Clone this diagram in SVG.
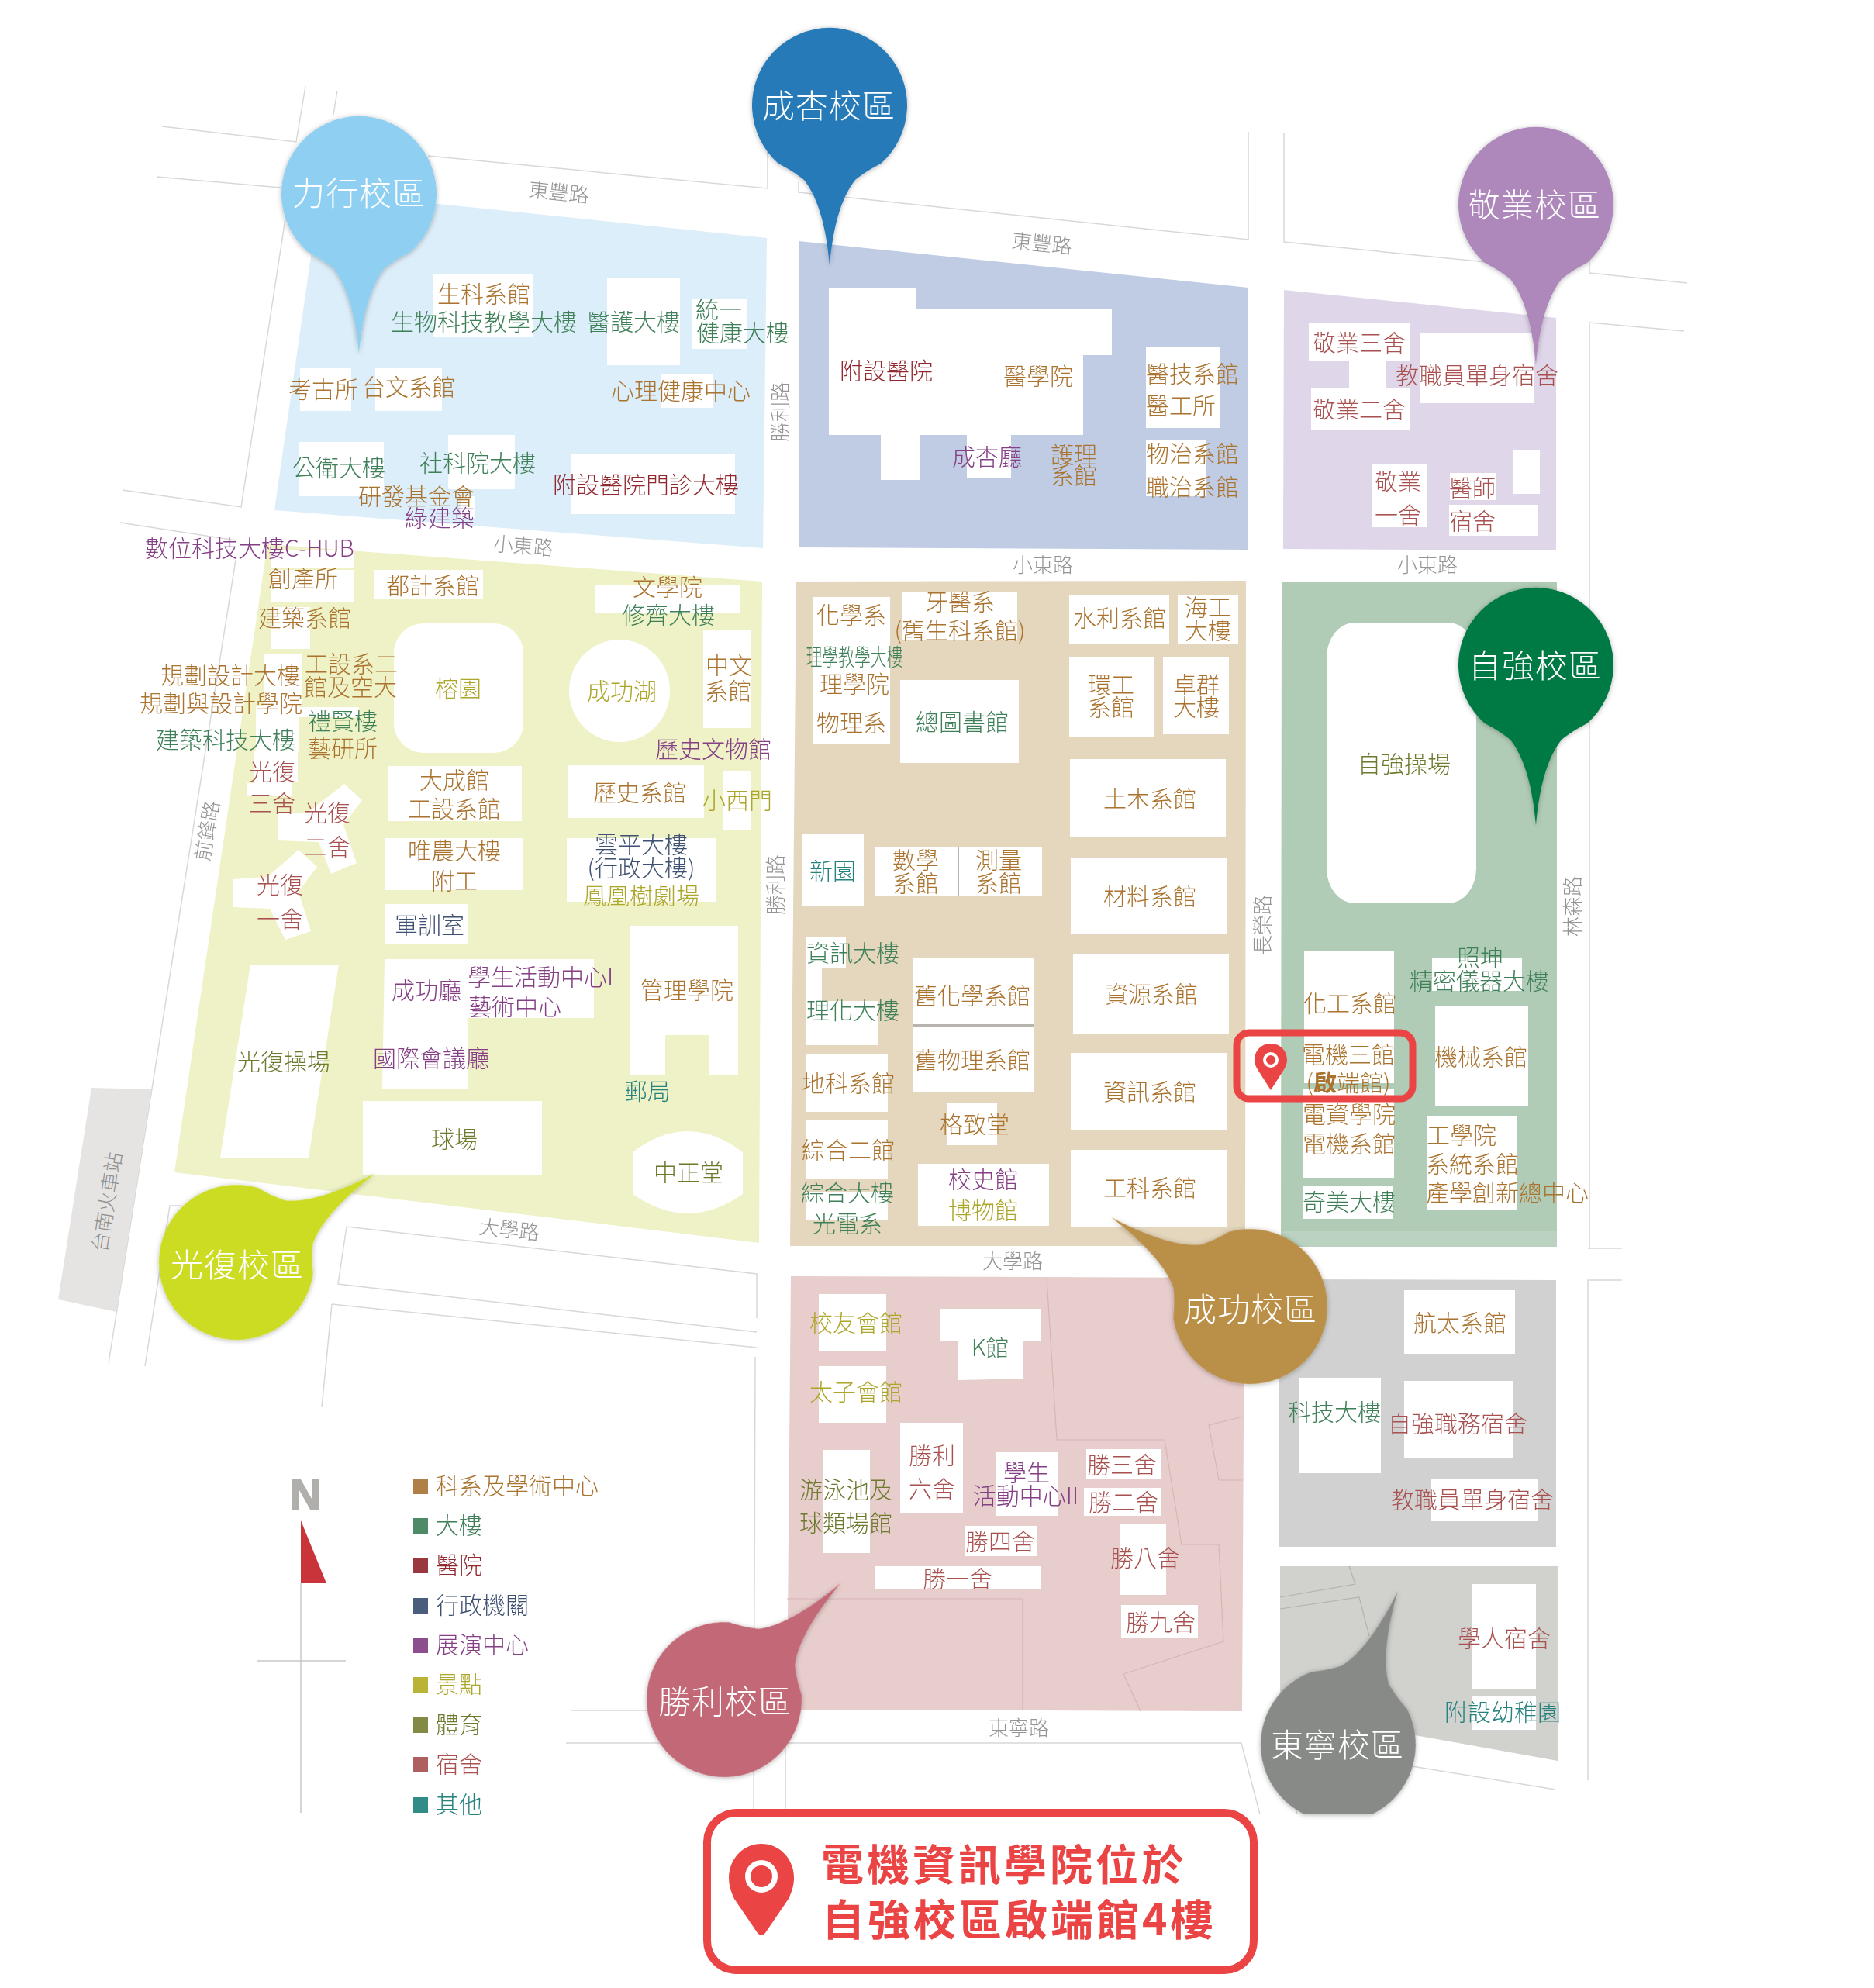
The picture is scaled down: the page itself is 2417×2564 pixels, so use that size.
<svg xmlns="http://www.w3.org/2000/svg" width="2417" height="2564" viewBox="0 0 2417 2564">
<style>
text{font-family:"Noto Sans CJK TC","Noto Sans CJK SC",sans-serif;font-weight:300;font-size:30px;text-anchor:middle;dominant-baseline:central}
.w{fill:#fff}
.rl{fill:none;stroke:#d8d8d8;stroke-width:1.5}
.il{fill:none;stroke:#d6b5b5;stroke-width:1.2}
.il2{fill:none;stroke:#b2b2ae;stroke-width:1.2}
text.road{fill:#959595;font-size:26px}
text.c{fill:#aa7430}text.b{fill:#3f8059}text.h{fill:#92282f}text.a{fill:#3f5172}text.e{fill:#853f85}text.s{fill:#aca62a}text.p{fill:#6f7a2f}text.d{fill:#a85150}text.o{fill:#25827e}
rect.c{fill:#b07f48}rect.b{fill:#4f8a68}rect.h{fill:#99393f}rect.a{fill:#4b5d7c}rect.e{fill:#8d4e8d}rect.s{fill:#b9b338}rect.p{fill:#828a45}rect.d{fill:#b05f60}rect.o{fill:#318c88}
text.pl{fill:#fff;font-size:42px;letter-spacing:1px}
text.leg{text-anchor:start}
text.big{fill:#ea4444;font-size:55px;font-weight:700;letter-spacing:4px;text-anchor:start}
</style>
<defs>
<path id="pin" d="M0,207 C-4,160 -14,120 -33,96 C-44,87 -56,80 -66,75 A100,100 0 1 1 66,75 C56,80 44,87 33,96 C14,120 4,160 0,207 Z"/>
<path id="bub" d="M0,213 C-4,166 -14,120 -33,96 C-44,87 -56,80 -66,75 A100,100 0 1 1 66,75 C56,80 44,87 33,96 C14,120 4,166 0,213 Z"/>
<path id="mk" d="M0,-21 C12,-21 21,-12 21,0 C21,6 18,11 14,17 L0,39 L-14,17 C-18,11 -21,6 -21,0 C-21,-12 -12,-21 0,-21 Z"/>
<filter id="sh" x="-20%" y="-20%" width="140%" height="140%"><feDropShadow dx="0" dy="1" stdDeviation="3" flood-color="#000" flood-opacity=".3"/></filter>
<clipPath id="cut"><rect x="1500" y="1900" width="500" height="440"/></clipPath>
</defs>
<rect class="w" width="2417" height="2564"/>
<g id="roads">
<path class="rl" d="M394,111 L382,183 L209,163"/>
<path class="rl" d="M435,117 L430,148 M552,201 L990,243 L990,140"/>
<path class="rl" d="M202,228 L362,242 M368,282 L311,654 L158,632"/>
<path class="rl" d="M155,674 L305,697 M304,722 L140,1758 M233,1555 L219,1555 L187,1762"/>
<path class="rl" d="M447,1582 L976,1643 L976,1700 M447,1582 L436,1656 L976,1718 M428,1682 L976,1738 M428,1682 L415,1815"/>
<path class="rl" d="M974,1750 L972,2340 M1013,2207 L1013,2340 M737,2206 L1015,2206 M730,2248 L1601,2248 L1625,2340"/>
<path class="rl" d="M2048,1610 L2092,1610 M2048,1651 L2092,1651 L2048,1651 L2048,2296 M2050,416 L2172,427 M2050,416 L2050,1610 M2050,352 L2176,365 M2050,330 L2050,352"/>
<path class="rl" d="M1656,172 L1656,312 L1917,338 M1610,170 L1610,309 L1030,248 L1030,234"/>
<path class="rl" d="M1821,2278 L2006,2308 M1669,2320 L1673,2340"/>
<path d="M118,1403 L195,1405 L150,1692 L75,1676 Z" fill="#e6e4e3"/>
<text class="road" style="fill:#8f8f8f" transform="rotate(-81 136 1550)" x="136" y="1550">台南火車站</text>
</g>
<g id="zones">
<path id="zone-lixing" fill="#dceef9" d="M413,247 L989,307 L984,707 L354,658 Z"/>
<path id="zone-chengxing" fill="#bfcce4" d="M1030,311 L1610,371 L1610,709 L1030,706 Z"/>
<path id="zone-jingye" fill="#e0d6e9" d="M1656,374 L2007,410 L2007,710 L1655,708 Z"/>
<path id="zone-guangfu" fill="#eef2c6" d="M345,702 L983,750 L979,1603 L225,1512 Z"/>
<path id="zone-chenggong" fill="#e5d7bd" d="M1027,750 L1607,749 L1606,1607 L1019,1607 Z"/>
<path id="zone-ziqiang" fill="#b1ccb6" d="M1653,750 L2008,750 L2008,1608 L1652,1608 Z"/>
<path id="zone-shengli" fill="#e8cdcd" d="M1020,1646 L1605,1648 L1602,2207 L1015,2205 Z"/>
<path id="zone-gongke" fill="#d1d1d1" d="M1649,1650 L2007,1651 L2007,1995 L1649,1995 Z"/>
<path id="zone-dongning" fill="#d1d1ce" d="M1651,2020 L2009,2020 L2009,2271 L1825,2238 L1780,2300 L1651,2200 Z"/>
<path class="il" d="M1350,1648 L1363,1857 L1502,1857 L1524,1992 L1572,1992 L1578,2117 L1449,2159 L1471,2207 M1015,2062 L1319,2062 L1319,2205 M1603,1827 L1559,1838 L1572,1909 L1603,1909"/>
<path class="il2" d="M1740,2020 L1748,2043 L1651,2060 M1651,2075 L1753,2060 L1766,2110"/>
</g>
<g id="buildings" class="w">
<rect x="559" y="354" width="129" height="81"/><rect x="783" y="359" width="94" height="112"/><rect x="893" y="385" width="70" height="65"/><rect x="387" y="475" width="66" height="55"/><rect x="484" y="475" width="86" height="55"/><rect x="852" y="483" width="67" height="43"/><rect x="386" y="570" width="109" height="70"/><rect x="578" y="561" width="86" height="70"/><rect x="595" y="640" width="17" height="28"/><rect x="737" y="585" width="211" height="78"/>
<rect x="350" y="710" width="106" height="22"/><rect x="350" y="735" width="106" height="42"/><rect x="350" y="783" width="50" height="54"/><rect x="483" y="735" width="140" height="38"/><rect x="767" y="755" width="188" height="36"/><rect x="907" y="813" width="61" height="126"/>
<rect x="508" y="804" width="167" height="167" rx="38"/><ellipse cx="799" cy="891" rx="65" ry="66"/>
<rect x="341" y="844" width="48" height="67"/><rect x="330" y="911" width="55" height="57"/><rect x="385" y="912" width="78" height="13"/>
<path d="M328,968 H384 V1008 H377 V1026 H319 V1010 H328 Z"/>
<path d="M358,1048 L397,1048 L444,1011 L467,1032 L443,1064 L460,1113 L427,1127 L411,1086 L358,1084 Z"/>
<path d="M301,1134 L345,1131 L385,1096 L409,1118 L385,1150 L401,1201 L368,1212 L348,1172 L301,1170 Z"/>
<rect x="500" y="988" width="173" height="71"/><rect x="732" y="987" width="176" height="68"/><rect x="933" y="994" width="35" height="77"/><rect x="497" y="1081" width="178" height="67"/><rect x="731" y="1081" width="192" height="82"/><rect x="497" y="1166" width="107" height="51"/>
<path d="M812,1194 H952 V1386 H915 V1335 H858 V1386 H812 Z"/>
<path d="M496,1237 H766 V1313 H604 V1405 H493 Z"/>
<path d="M323,1244 H437 L398,1493 H284 Z"/>
<rect x="468" y="1420" width="231" height="96"/>
<path d="M816,1486 Q887,1432 958,1486 L958,1540 Q887,1590 816,1540 Z"/>
<path d="M1069,372 H1182 V398 H1434 V458 H1397 V561 H1304 V616 H1247 V561 H1186 V619 H1136 V561 H1069 Z"/>
<rect x="1478" y="448" width="95" height="104"/><rect x="1478" y="568" width="78" height="72"/><rect x="1688" y="416" width="130" height="50"/><rect x="1740" y="466" width="47" height="34"/><rect x="1691" y="500" width="127" height="54"/><rect x="1832" y="429" width="146" height="91"/><rect x="1769" y="599" width="72" height="81"/><rect x="1870" y="610" width="59" height="35"/><rect x="1952" y="581" width="34" height="56"/><rect x="1869" y="651" width="114" height="40"/>
<rect x="1049" y="770" width="99" height="189"/><rect x="1164" y="764" width="148" height="62"/><rect x="1379" y="768" width="129" height="63"/><rect x="1519" y="768" width="78" height="63"/><rect x="1379" y="848" width="109" height="102"/><rect x="1500" y="848" width="85" height="99"/><rect x="1161" y="877" width="153" height="107"/><rect x="1380" y="979" width="201" height="100"/><rect x="1034" y="1076" width="80" height="92"/><rect x="1128" y="1093" width="107" height="63"/><rect x="1237" y="1093" width="107" height="63"/><rect x="1381" y="1106" width="201" height="99"/>
<path d="M1040,1208 H1091 V1248 H1060 V1291 H1133 V1348 H1040 Z"/>
<rect x="1177" y="1236" width="156" height="85"/><rect x="1177" y="1324" width="156" height="85"/><rect x="1384" y="1231" width="201" height="102"/><rect x="1040" y="1359" width="105" height="75"/><rect x="1381" y="1358" width="201" height="99"/><rect x="1222" y="1423" width="64" height="54"/><rect x="1040" y="1445" width="105" height="76"/><rect x="1040" y="1538" width="105" height="35"/><rect x="1184" y="1501" width="169" height="80"/><rect x="1381" y="1483" width="201" height="100"/>
</g>
<g id="seams" fill="#b7b4ae"><rect x="1235" y="1093" width="2" height="63"/><rect x="1177" y="1321" width="156" height="3"/></g>
<g id="ziqiang-strip"><rect x="1652" y="1588" width="356" height="20" fill="#bad2bf"/></g>
<g id="buildings2" class="w">
<rect x="1711" y="803" width="193" height="362" rx="36" ry="45"/><rect x="1682" y="1227" width="116" height="170"/><rect x="1681" y="1405" width="117" height="114"/><rect x="1681" y="1530" width="116" height="42"/><rect x="1847" y="1236" width="116" height="42"/><rect x="1851" y="1297" width="120" height="129"/><rect x="1840" y="1439" width="117" height="121"/>
<rect x="1056" y="1669" width="87" height="73"/><rect x="1056" y="1762" width="87" height="73"/>
<path d="M1213,1688 H1343 V1730 H1319 V1778 L1236,1780 V1730 H1213 Z"/>
<rect x="1062" y="1870" width="60" height="133"/><rect x="1161" y="1835" width="81" height="117"/><rect x="1284" y="1873" width="80" height="82"/><rect x="1401" y="1869" width="97" height="39"/><rect x="1398" y="1919" width="100" height="36"/><rect x="1244" y="1968" width="94" height="39"/><rect x="1128" y="2020" width="214" height="30"/><rect x="1445" y="1965" width="59" height="92"/><rect x="1446" y="2070" width="99" height="42"/>
<rect x="1811" y="1664" width="143" height="82"/><rect x="1676" y="1777" width="105" height="123"/><rect x="1811" y="1781" width="140" height="99"/><rect x="1845" y="1908" width="139" height="54"/><rect x="1898" y="2043" width="83" height="135"/><rect x="1898" y="2188" width="83" height="43"/>
</g>
<g id="pins" filter="url(#sh)">
<use id="pin-lixing" href="#pin" fill="#8fcff1" transform="translate(463 250)"/>
<use id="pin-chengxing" href="#pin" fill="#267ab8" transform="translate(1070 136)"/>
<use id="pin-jingye" href="#pin" fill="#ae87bb" transform="translate(1981 264)"/>
<use id="pin-ziqiang" href="#pin" fill="#017a45" transform="translate(1981 858)"/>
<use id="pin-guangfu" href="#bub" fill="#cbdc20" transform="translate(305 1628) rotate(-122.7)"/>
<use id="pin-chenggong" href="#bub" fill="#ba9049" transform="translate(1612 1685) rotate(122.7)"/>
<use id="pin-shengli" href="#bub" fill="#c36877" transform="translate(934 2192) rotate(-135)"/>
<g clip-path="url(#cut)"><use id="pin-dongning" href="#bub" fill="#878a87" transform="translate(1726 2250) rotate(-158.8)"/></g>
</g>
<g id="pin-labels" transform="translate(0 -3)">
<text class="pl" x="463" y="249">力行校區</text><text class="pl" x="1069" y="136">成杏校區</text><text class="pl" x="1979" y="264">敬業校區</text><text class="pl" x="1980" y="858">自強校區</text><text class="pl" x="306" y="1631">光復校區</text><text class="pl" x="1613" y="1688">成功校區</text><text class="pl" x="935" y="2194">勝利校區</text><text class="pl" x="1725" y="2250">東寧校區</text>
</g>
<g id="road-labels" transform="translate(0 -3)">
<text class="road" x="721" y="249" transform="rotate(6 721 249)">東豐路</text>
<text class="road" x="1344" y="315" transform="rotate(6 1344 315)">東豐路</text>
<text class="road" x="675" y="705" transform="rotate(5 675 705)">小東路</text>
<text class="road" x="1345" y="729">小東路</text>
<text class="road" x="1841" y="729">小東路</text>
<text class="road" x="1004" y="534" transform="rotate(-90 1004 534)">勝利路</text>
<text class="road" x="998" y="1144" transform="rotate(-90 998 1144)">勝利路</text>
<text class="road" x="1626" y="1196" transform="rotate(-90 1626 1196)">長榮路</text>
<text class="road" x="2026" y="1172" transform="rotate(-90 2026 1172)">林森路</text>
<text class="road" x="265" y="1074" transform="rotate(-80 265 1074)">前鋒路</text>
<text class="road" x="657" y="1587" transform="rotate(6 657 1587)">大學路</text>
<text class="road" x="1306" y="1627">大學路</text>
<text class="road" x="1314" y="2229">東寧路</text>
</g>
<g id="labels" transform="translate(0 -2)">
<text class="c" x="624" y="379">生科系館</text><text class="b" x="624" y="415">生物科技教學大樓</text><text class="b" x="817" y="415">醫護大樓</text><text class="b" x="927" y="399">統一</text><text class="b" x="958" y="429">健康大樓</text><text class="c" x="417" y="502">考古所</text><text class="c" x="527" y="499">台文系館</text><text class="c" x="878" y="504">心理健康中心</text><text class="b" x="437" y="603">公衛大樓</text><text class="b" x="616" y="597">社科院大樓</text><text class="c" x="537" y="640">研發基金會</text><text class="e" x="567" y="668">綠建築</text><text class="h" x="833" y="625">附設醫院門診大樓</text><text class="e" x="322" y="707">數位科技大樓C-HUB</text>
<text class="c" x="391" y="746">創產所</text><text class="c" x="558" y="755">都計系館</text><text class="c" x="393" y="797">建築系館</text><text class="c" x="861" y="757">文學院</text><text class="b" x="862" y="793">修齊大樓</text><text class="c" x="453" y="856">工設系二</text><text class="c" x="452" y="886">館及空大</text><text class="c" x="297" y="871">規劃設計大樓</text><text class="c" x="285" y="907">規劃與設計學院</text><text class="s" x="591" y="888">榕園</text><text class="s" x="802" y="891">成功湖</text><text class="c" x="940" y="858">中文</text><text class="c" x="939" y="891">系館</text><text class="b" x="442" y="930">禮賢樓</text><text class="c" x="442" y="965">藝研所</text><text class="b" x="291" y="954">建築科技大樓</text><text class="e" x="920" y="966">歷史文物館</text><text class="d" x="351" y="995">光復</text><text class="d" x="351" y="1036">三舍</text><text class="d" x="422" y="1048">光復</text><text class="d" x="422" y="1092">二舍</text><text class="d" x="361" y="1141">光復</text><text class="d" x="361" y="1185">一舍</text><text class="c" x="586" y="1006">大成館</text><text class="c" x="586" y="1043">工設系館</text><text class="c" x="825" y="1022">歷史系館</text><text class="s" x="951" y="1032">小西門</text><text class="c" x="586" y="1097">唯農大樓</text><text class="c" x="586" y="1136">附工</text><text class="a" x="827" y="1089">雲平大樓</text><text class="a" x="827" y="1119">(行政大樓)</text><text class="s" x="827" y="1155">鳳凰樹劇場</text><text class="a" x="554" y="1193">軍訓室</text><text class="e" x="697" y="1260">學生活動中心I</text><text class="e" x="550" y="1277">成功廳</text><text class="e" x="664" y="1298">藝術中心</text><text class="c" x="886" y="1277">管理學院</text><text class="p" x="366" y="1369">光復操場</text><text class="e" x="556" y="1365">國際會議廳</text><text class="o" x="835" y="1407">郵局</text><text class="p" x="586" y="1469">球場</text><text class="p" x="888" y="1512">中正堂</text>
<text class="h" x="1143" y="478">附設醫院</text><text class="c" x="1339" y="485">醫學院</text><text class="c" x="1538" y="482">醫技系館</text><text class="c" x="1523" y="523">醫工所</text><text class="c" x="1538" y="585">物治系館</text><text class="c" x="1538" y="628">職治系館</text><text class="e" x="1273" y="589">成杏廳</text><text class="c" x="1385" y="586">護理</text><text class="c" x="1385" y="613">系館</text>
<text class="d" x="1753" y="442">敬業三舍</text><text class="d" x="1905" y="484">教職員單身宿舍</text><text class="d" x="1753" y="528">敬業二舍</text><text class="d" x="1803" y="621">敬業</text><text class="d" x="1803" y="664">一舍</text><text class="d" x="1899" y="629">醫師</text><text class="d" x="1899" y="672">宿舍</text>
<text class="c" x="1098" y="793">化學系</text><text class="c" x="1238" y="776">牙醫系</text><text class="c" x="1238" y="813">(舊生科系館)</text><text class="b" x="1102" y="847" textLength="125" lengthAdjust="spacingAndGlyphs">理學教學大樓</text><text class="c" x="1102" y="882">理學院</text><text class="c" x="1098" y="932">物理系</text><text class="b" x="1241" y="931">總圖書館</text><text class="c" x="1444" y="797">水利系館</text><text class="c" x="1558" y="783">海工</text><text class="c" x="1558" y="813">大樓</text><text class="c" x="1433" y="883">環工</text><text class="c" x="1433" y="912">系館</text><text class="c" x="1543" y="883">卓群</text><text class="c" x="1543" y="912">大樓</text><text class="c" x="1483" y="1030">土木系館</text><text class="o" x="1074" y="1123">新園</text><text class="c" x="1181" y="1109">數學</text><text class="c" x="1181" y="1139">系館</text><text class="c" x="1288" y="1109">測量</text><text class="c" x="1288" y="1139">系館</text><text class="c" x="1483" y="1156">材料系館</text><text class="b" x="1100" y="1229">資訊大樓</text><text class="b" x="1100" y="1303">理化大樓</text><text class="c" x="1254" y="1284">舊化學系館</text><text class="c" x="1254" y="1367">舊物理系館</text><text class="c" x="1485" y="1282">資源系館</text><text class="c" x="1094" y="1397">地科系館</text><text class="c" x="1483" y="1408">資訊系館</text><text class="c" x="1257" y="1450">格致堂</text><text class="c" x="1094" y="1483">綜合二館</text><text class="e" x="1268" y="1521">校史館</text><text class="s" x="1268" y="1561">博物館</text><text class="b" x="1093" y="1538">綜合大樓</text><text class="b" x="1093" y="1578">光電系</text><text class="c" x="1483" y="1532">工科系館</text>
<text class="p" x="1811" y="985">自強操場</text><text class="b" x="1909" y="1235">照坤</text><text class="b" x="1908" y="1265">精密儀器大樓</text><text class="c" x="1741" y="1294">化工系館</text><text class="c" x="1910" y="1363">機械系館</text><text class="c" x="1739" y="1360">電機三館</text><text class="c" x="1739" y="1396">(<tspan font-weight="700">啟</tspan>端館)</text><text class="c" x="1740" y="1437">電資學院</text><text class="c" x="1740" y="1475">電機系館</text><text class="b" x="1740" y="1550">奇美大樓</text><text class="c" x="1885" y="1464">工學院</text><text class="c" x="1899" y="1501">系統系館</text><text class="c" x="1944" y="1538">產學創新總中心</text>
<text class="s" x="1104" y="1706">校友會館</text><text class="s" x="1104" y="1795">太子會館</text><text class="b" x="1277" y="1738">K館</text><text class="d" x="1202" y="1877">勝利</text><text class="d" x="1202" y="1920">六舍</text><text class="e" x="1324" y="1899">學生</text><text class="e" x="1323" y="1929">活動中心II</text><text class="p" x="1091" y="1921">游泳池及</text><text class="p" x="1091" y="1964">球類場館</text><text class="d" x="1447" y="1889">勝三舍</text><text class="d" x="1449" y="1937">勝二舍</text><text class="d" x="1290" y="1988">勝四舍</text><text class="d" x="1477" y="2009">勝八舍</text><text class="d" x="1235" y="2036">勝一舍</text><text class="d" x="1497" y="2092">勝九舍</text><text class="c" x="1883" y="1706">航太系館</text><text class="b" x="1721" y="1821">科技大樓</text><text class="d" x="1880" y="1836">自強職務宿舍</text><text class="d" x="1899" y="1934">教職員單身宿舍</text><text class="d" x="1940" y="2113">學人宿舍</text><text class="o" x="1938" y="2208">附設幼稚園</text>
</g>
<g id="marker-box">
<rect x="1595" y="1332" width="227" height="85" rx="16" fill="none" stroke="#ea4444" stroke-width="9"/>
<use href="#mk" fill="#ea4444" transform="translate(1639 1367)"/>
<circle cx="1639" cy="1367" r="8" fill="none" stroke="#fff" stroke-width="4"/>
</g>
<g id="compass">
<text x="374" y="1946" style="text-anchor:start;dominant-baseline:alphabetic;font-family:'Liberation Sans',sans-serif;font-weight:700;font-size:55px;fill:#b0afab;stroke:#b0afab;stroke-width:2">N</text>
<path d="M388,2042 V2338 M331,2142 H446" fill="none" stroke="#c8c8c8" stroke-width="1.5"/>
<path d="M388,1961 L421,2042 H388 Z" fill="#c9343b"/>
</g>
<g id="legend">
<rect class="c" x="533" y="1907" width="19" height="20"/><text class="c leg" x="562" y="1914">科系及學術中心</text>
<rect class="b" x="533" y="1958" width="19" height="20"/><text class="b leg" x="562" y="1965">大樓</text>
<rect class="h" x="533" y="2009" width="19" height="20"/><text class="h leg" x="562" y="2016">醫院</text>
<rect class="a" x="533" y="2061" width="19" height="20"/><text class="a leg" x="562" y="2068">行政機關</text>
<rect class="e" x="533" y="2112" width="19" height="20"/><text class="e leg" x="562" y="2119">展演中心</text>
<rect class="s" x="533" y="2163" width="19" height="20"/><text class="s leg" x="562" y="2170">景點</text>
<rect class="p" x="533" y="2215" width="19" height="20"/><text class="p leg" x="562" y="2222">體育</text>
<rect class="d" x="533" y="2266" width="19" height="20"/><text class="d leg" x="562" y="2273">宿舍</text>
<rect class="o" x="533" y="2318" width="19" height="20"/><text class="o leg" x="562" y="2325">其他</text>
</g>
<g id="notice">
<rect x="912" y="2338" width="705" height="203" rx="38" fill="#fff" stroke="#ea4444" stroke-width="10"/>
<path fill="#ea4444" d="M982,2378 C1006,2378 1024,2398 1024,2422 C1024,2432 1021,2440 1017,2449 L987,2493 Q982,2499 977,2493 L947,2449 C943,2440 940,2432 940,2422 C940,2398 958,2378 982,2378 Z"/>
<circle cx="982" cy="2420" r="17.5" fill="none" stroke="#fff" stroke-width="7"/>
<text class="big" x="1059" y="2401">電機資訊學院位於</text>
<text class="big" x="1060" y="2472">自強校區啟端館4樓</text>
</g>
</svg>
